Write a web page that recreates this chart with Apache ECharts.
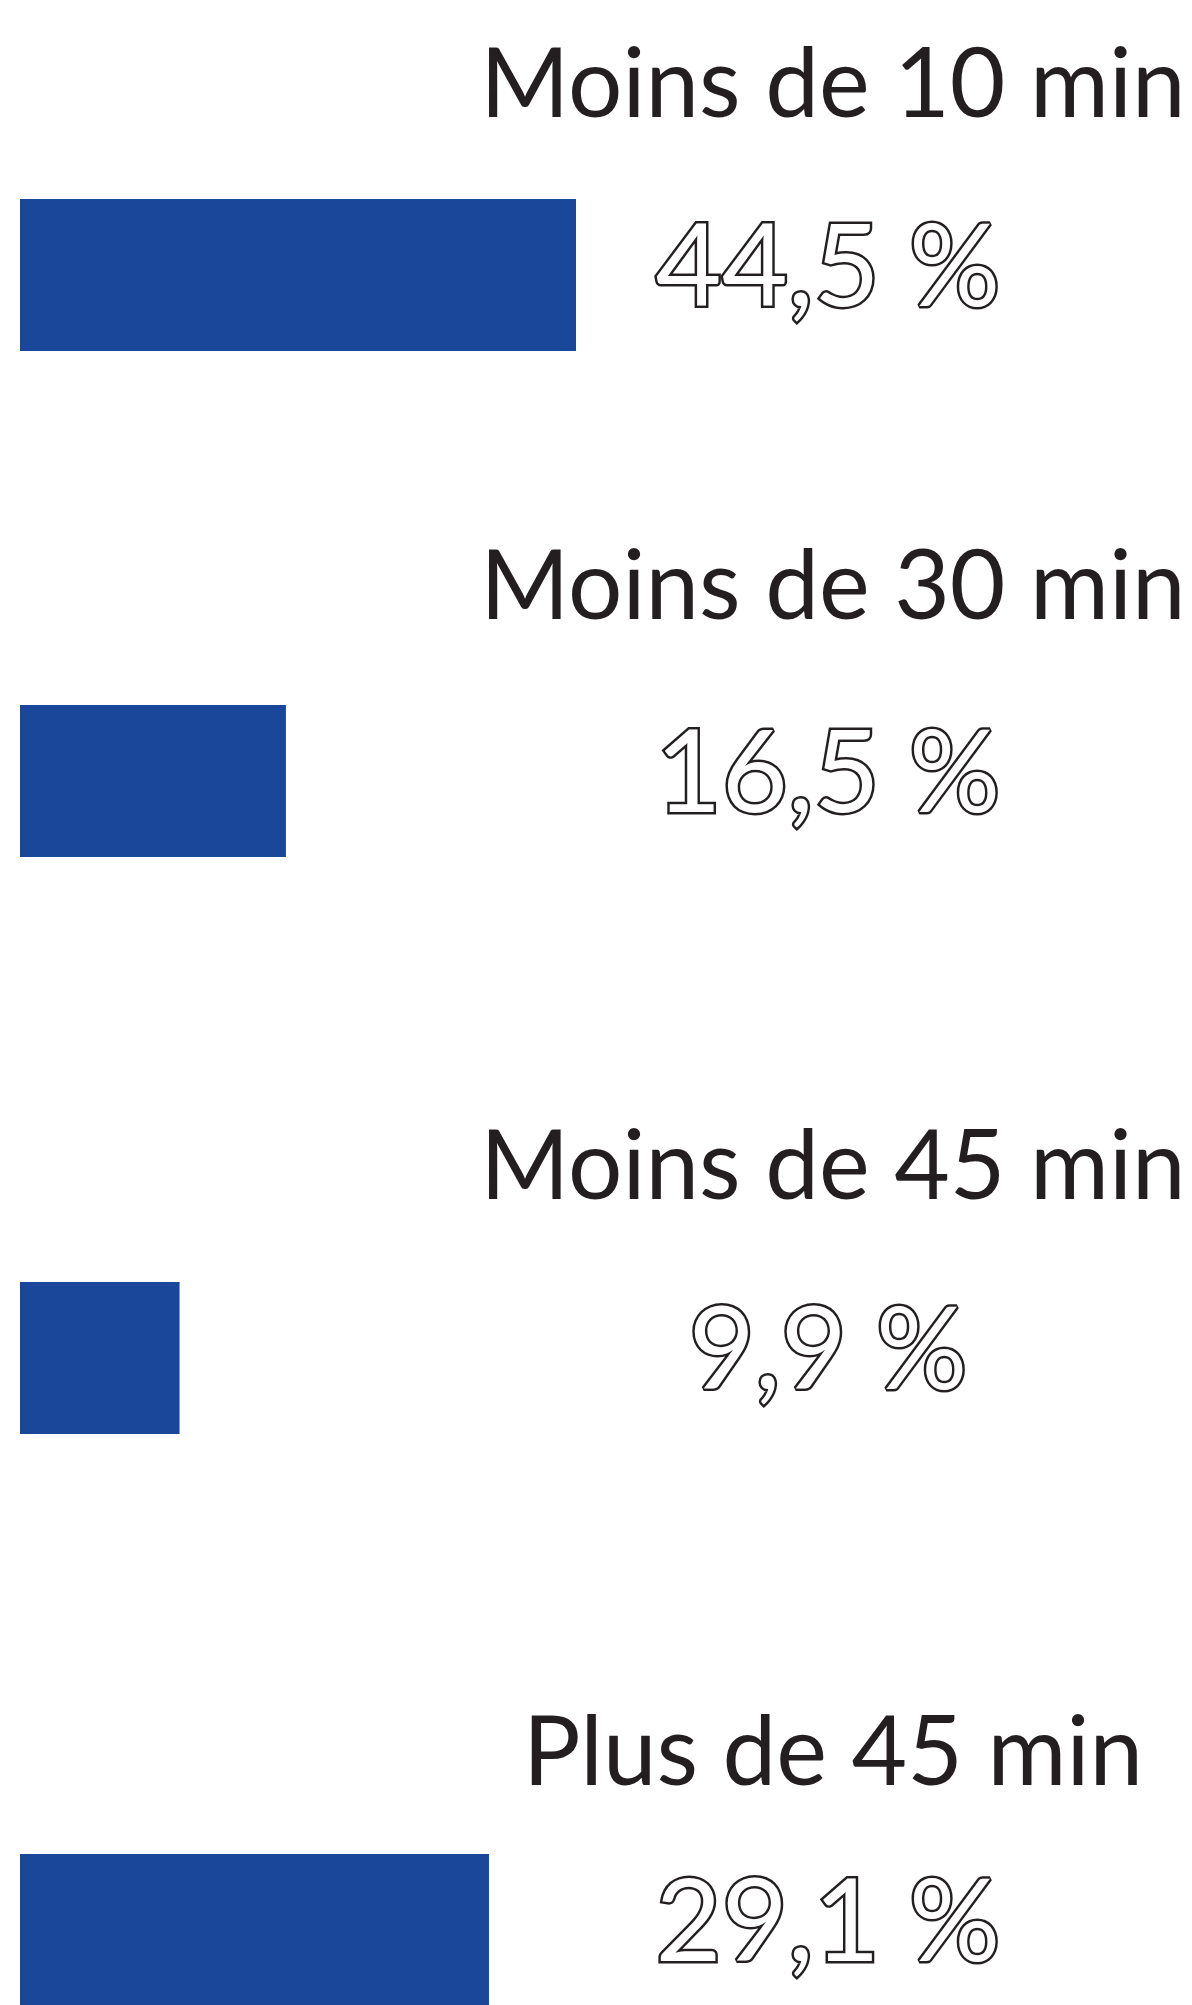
<!DOCTYPE html>
<html>
<head>
<meta charset="utf-8">
<title>Temps de trajet</title>
<script src="https://cdn.jsdelivr.net/npm/echarts@6/dist/echarts.min.js"></script>
<style>
	html, body { margin: 0; padding: 0; background: #fff; }
	#main { width: 1192px; height: 2005px; }
</style>
</head>
<body>
<div id="main"></div>
<script>
// data
const categories = ['Moins de 10 min', 'Moins de 30 min', 'Moins de 45 min', 'Plus de 45 min'];
const values = [44.5, 16.5, 9.9, 29.1];

// layout (px)
const rowTops = [199, 705, 1282, 1854];
const headTops = [33, 535, 1115, 1701];
const barH = 152;

const blue = '#1a479a';
const ink = '#231f20';

const fmt = v => v.toFixed(1).replace('.', ',') + ' %';

let chart = echarts.init(document.getElementById('main'));

let grids = [], xAxes = [], yAxes = [], series = [], titles = [];

categories.forEach((cat, i) => {
	grids.push({left: 20, width: 556, top: rowTops[i], height: barH});
	// the first bar is drawn shorter than its value in the source, so the axis stops at 34.5 and clips it
	xAxes.push({type: 'value', gridIndex: i, min: 0, max: 34.5, show: false});
	yAxes.push({type: 'category', gridIndex: i, data: [cat], show: false});
	series.push({
		type: 'bar',
		xAxisIndex: i,
		yAxisIndex: i,
		data: [values[i]],
		barWidth: '100%',
		itemStyle: {color: blue},
		label: {
			show: true,
			position: [808, 70],
			align: 'center',
			verticalAlign: 'middle',
			formatter: p => fmt(p.value),
			fontFamily: 'Lato',
			fontSize: 114,
			color: '#fff',
			textBorderColor: ink,
			textBorderWidth: 5
		},
		silent: true,
		animation: false
	});
	titles.push({
		text: cat,
		left: 828,
		top: headTops[i],
		textAlign: 'center',
		textStyle: {fontFamily: 'Lato', fontSize: 96, fontWeight: 'normal', color: ink}
	});
});

chart.setOption({
	backgroundColor: '#fff',
	animation: false,
	title: titles,
	grid: grids,
	xAxis: xAxes,
	yAxis: yAxes,
	series: series
});
</script>
</body>
</html>
